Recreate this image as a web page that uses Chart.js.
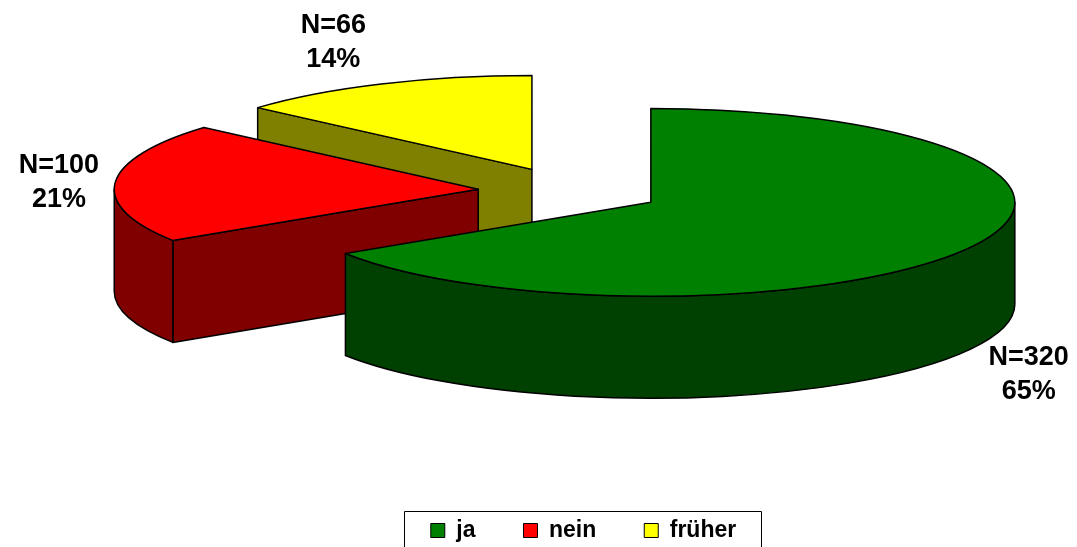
<!DOCTYPE html>
<html lang="de">
<head>
<meta charset="utf-8">
<title>ja / nein / früher</title>
<script src="https://cdn.jsdelivr.net/npm/chart.js@4.4.1/dist/chart.umd.min.js"></script>
<style>
  html, body { margin: 0; padding: 0; background: #fff; overflow: hidden; }
  #grafik { display: block; }
</style>
</head>
<body>
<canvas id="grafik" width="1077" height="552"></canvas>
<script>
const kategorien = ['ja', 'nein', 'früher'];
const anzahl = [320, 100, 66];
const prozent = [65, 21, 14];

const farben = ['#008000', '#ff0000', '#ffff00'];
const seitenFarben = ['#004000', '#800000', '#808000'];

// 3D-Ansicht: Mitte, Neigung, Höhe, Abstand der Stücke
const MITTE_X = 570, MITTE_Y = 191;
const NEIGUNG = 0.258;
const TIEFE = 102;
const EXPLOSION = 92;
const RADIUS = 364;
const SCHRIFT = 'Arial, "Liberation Sans", Helvetica, sans-serif';

function stueck(arc) {
    const mitte = (arc.startAngle + arc.endAngle) / 2;
    return { mitte, dx: Math.cos(mitte) * EXPLOSION, dy: Math.sin(mitte) * EXPLOSION };
}

// Kreis von Chart.js -> flache Ellipse
function projektion(ctx, arc) {
    ctx.translate(MITTE_X, MITTE_Y);
    ctx.scale(1, NEIGUNG);
    ctx.translate(-arc.x, -arc.y);
}

const torte3d = {
    id: 'torte3d',
    beforeDatasetsDraw(chart) {
        const ctx = chart.ctx;
        const arcs = chart.getDatasetMeta(0).data;
        const tief = TIEFE / NEIGUNG;
        // hinten zuerst zeichnen
        const reihenfolge = arcs.map((a, i) => i)
            .sort((i, j) => Math.sin(stueck(arcs[i]).mitte) - Math.sin(stueck(arcs[j]).mitte));

        reihenfolge.forEach(i => {
            const arc = arcs[i];
            const { dx, dy } = stueck(arc);
            const s = arc.startAngle, e = arc.endAngle, r = arc.outerRadius;
            const cx = arc.x + dx, cy = arc.y + dy;

            const flaeche = (bauen, farbe) => {
                ctx.save();
                projektion(ctx, arc);
                ctx.beginPath();
                bauen();
                ctx.restore();
                if (farbe) {
                    ctx.fillStyle = farbe;
                    ctx.fill();
                }
                ctx.lineWidth = 1.5;
                ctx.lineJoin = 'round';
                ctx.strokeStyle = '#000';
                ctx.stroke();
            };
            const schnitt = (w) => {
                const px = cx + r * Math.cos(w), py = cy + r * Math.sin(w);
                ctx.moveTo(cx, cy);
                ctx.lineTo(px, py);
                ctx.lineTo(px, py + tief);
                ctx.lineTo(cx, cy + tief);
                ctx.closePath();
            };

            // Schnittflächen, falls sie nach vorne zeigen
            if (Math.cos(s) < -1e-6) flaeche(() => schnitt(s), seitenFarben[i]);
            if (Math.cos(e) > 1e-6) flaeche(() => schnitt(e), seitenFarben[i]);

            // Außenwand, nur vordere Hälfte
            [[0, Math.PI], [2 * Math.PI, 3 * Math.PI]].forEach(([v0, v1]) => {
                const a = Math.max(s, v0), b = Math.min(e, v1);
                if (b - a > 1e-4) {
                    flaeche(() => {
                        ctx.arc(cx, cy, r, a, b);
                        ctx.lineTo(cx + r * Math.cos(b), cy + r * Math.sin(b) + tief);
                        ctx.arc(cx, cy + tief, r, b, a, true);
                        ctx.closePath();
                    }, seitenFarben[i]);
                }
            });

            // Oberseite: das Segment von Chart.js selbst
            ctx.save();
            projektion(ctx, arc);
            ctx.translate(dx, dy);
            arc.draw(ctx);
            ctx.restore();
            flaeche(() => {
                ctx.moveTo(cx, cy);
                ctx.arc(cx, cy, r, s, e);
                ctx.closePath();
            }, null);
        });
        return false;
    },
    afterDraw(chart) {
        const ctx = chart.ctx;
        const arcs = chart.getDatasetMeta(0).data;
        ctx.save();
        ctx.font = 'bold 27px ' + SCHRIFT;
        ctx.fillStyle = '#000';
        ctx.textAlign = 'center';
        ctx.textBaseline = 'alphabetic';
        arcs.forEach((arc, i) => {
            const { mitte, dx, dy } = stueck(arc);
            const c = Math.cos(mitte), sn = Math.sin(mitte);
            const zeilen = ['N=' + anzahl[i], prozent[i] + '%'];
            const hb = Math.max(...zeilen.map(z => ctx.measureText(z).width)) / 2;
            const abstand = 16 + 36 * (1 - Math.abs(c));
            const x = MITTE_X + dx + arc.outerRadius * c + abstand * c + Math.sign(c) * hb;
            const y = MITTE_Y + (dy + arc.outerRadius * sn) * NEIGUNG + 49 * sn + (sn > 0 ? TIEFE : 1);
            ctx.fillText(zeilen[0], x, y - 7.5);
            ctx.fillText(zeilen[1], x, y + 26.5);
        });

        // Rahmen um die Legende
        const boxen = chart.legend.legendHitBoxes;
        if (boxen && boxen.length) {
            const erste = boxen[0], letzte = boxen[boxen.length - 1];
            const links = Math.round(erste.left - 27) + 0.5;
            const rechts = Math.round(letzte.left + letzte.width + 25) + 0.5;
            const oben = Math.round(erste.top - 8) + 0.5;
            ctx.strokeStyle = '#000';
            ctx.lineWidth = 1;
            ctx.strokeRect(links, oben, rechts - links, chart.height + 5 - oben);
        }
        ctx.restore();
    }
};

new Chart(document.getElementById('grafik'), {
    type: 'pie',
    data: {
        labels: kategorien,
        datasets: [{
            data: anzahl,
            backgroundColor: farben,
            borderWidth: 0,
            offset: 0,
            hoverOffset: 0,
            radius: RADIUS
        }]
    },
    options: {
        responsive: false,
        animation: false,
        events: [],
        layout: { padding: { left: 90 } },
        plugins: {
            tooltip: { enabled: false },
            legend: {
                position: 'bottom',
                labels: {
                    boxWidth: 14,
                    boxHeight: 14,
                    padding: 48,
                    color: '#000',
                    font: { family: SCHRIFT, size: 23, weight: 'bold' },
                    generateLabels: () => kategorien.map((t, i) => ({
                        text: t,
                        fillStyle: farben[i],
                        strokeStyle: '#000',
                        lineWidth: 1,
                        hidden: false,
                        index: i
                    }))
                }
            }
        }
    },
    plugins: [torte3d]
});
</script>
</body>
</html>
